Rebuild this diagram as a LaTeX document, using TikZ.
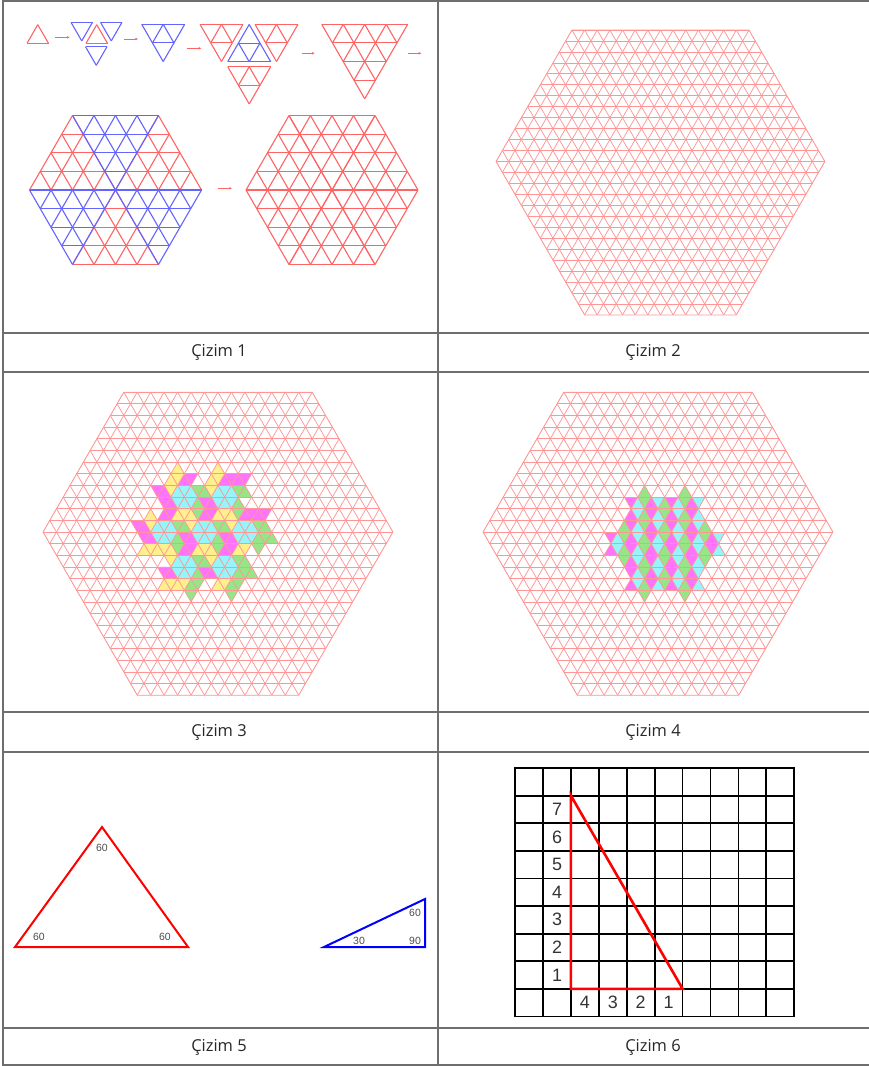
\documentclass[tikz,border=0pt]{standalone}
\usepackage{fontspec}
\setmainfont{Open Sans}
\newfontfamily\arialfont{Liberation Sans}
\usetikzlibrary{arrows.meta}
\definecolor{tabline}{RGB}{110,110,110}
\definecolor{isored}{RGB}{255,150,150}
\definecolor{trired}{RGB}{255,100,100}
\definecolor{triblue}{RGB}{100,100,255}
\definecolor{hexcyan}{RGB}{150,245,250}
\definecolor{rhy}{RGB}{255,240,140}
\definecolor{rhg}{RGB}{150,230,135}
\definecolor{rhm}{RGB}{255,115,250}
\colorlet{rk0}{rhg}\colorlet{rk1}{rhm}\colorlet{rk2}{rhy}
\colorlet{rk3}{rhm}\colorlet{rk4}{rhy}\colorlet{rk5}{rhg}
\colorlet{dia0}{rhm}\colorlet{dia1}{rhg}\colorlet{dia2}{hexcyan}
\newcommand\subtri[1]{%
  \foreach \m in {0,...,#1} {
    \draw ({\m*0.5},{\m*0.8660254}) -- ({#1-\m*0.5},{\m*0.8660254});
    \draw (\m,0) -- ({(\m+#1)*0.5},{(#1-\m)*0.8660254});
    \draw (\m,0) -- ({\m*0.5},{\m*0.8660254});
  }}
\newcommand\bighex[2]{%
  \begin{scope}[#1, shift={(-4,0)}] \subtri{4} \end{scope}
  \begin{scope}[#1] \subtri{4} \end{scope}
  \begin{scope}[#1, shift={(-2,-3.4641)}] \subtri{4} \end{scope}
  \begin{scope}[#2, shift={(-2,3.4641)}, yscale=-1] \subtri{4} \end{scope}
  \begin{scope}[#2, shift={(-4,0)}, yscale=-1] \subtri{4} \end{scope}
  \begin{scope}[#2, yscale=-1] \subtri{4} \end{scope}}
\newcommand\isogrid{%
  \begin{scope}
    \clip (0,0) -- (6,10.3923) -- (20,10.3923) -- (26,0) -- (19,-12.1244) -- (7,-12.1244) -- cycle;
    \foreach \rw in {-14,...,12}
      \draw[isoline] (-1,{0.8660254*\rw}) -- (27,{0.8660254*\rw});
    \foreach \kk in {-7,...,33} {
      \draw[isoline] ({\kk-7},-12.1244) -- ({\kk+6},10.3923);
      \draw[isoline] ({\kk+7},-12.1244) -- ({\kk-6},10.3923);
    }
  \end{scope}
  \draw[isoline] (0,0) -- (6,10.3923) -- (20,10.3923) -- (26,0) -- (19,-12.1244) -- (7,-12.1244) -- cycle;}
\newcommand\hexcell{%
  \fill[hexcyan] (0:1) -- (60:1) -- (120:1) -- (180:1) -- (240:1) -- (300:1) -- cycle;
  \foreach \kk in {0,...,5}
    \fill[fill=rk\kk, rotate=60*\kk] (60:1) -- (0:1) -- (0:2) -- (1.5,0.8660254) -- cycle;}
\newcommand\vrhomb[1]{%
  \fill[fill=rk#1, rotate=60*#1] (1,0) -- (2,0) -- (2.5,-0.8660254) -- (1.5,-0.8660254) -- cycle;}
\begin{document}
\begin{tikzpicture}[x=1bp,y=-1bp,
  every node/.style={inner sep=0pt, outer sep=0pt},
  tabrule/.style={draw=tabline, line width=1.3bp},
  caption/.style={font=\fontsize{16.5}{19}\selectfont, text=black!85},
  isoline/.style={draw=isored, line width=0.75bp},
  redtri/.style={color=trired, line width=1.1bp},
  bluetri/.style={color=triblue, line width=1.1bp},
  unit1/.style={x={(21.5bp,0bp)}, y={(0bp,21.5bp)}},
  unit2/.style={x={(12.65bp,0bp)}, y={(0bp,12.65bp)}},
  unit3/.style={x={(13.46bp,0bp)}, y={(0bp,13.46bp)}},
  arr/.style={draw=trired, line width=0.9bp, -{Latex[length=3bp,width=2.6bp]}},
  anglab/.style={font=\arialfont\fontsize{10.5}{12}\selectfont, text=black!70},
  gridblk/.style={draw=black, line width=1.8bp, line cap=rect},
  numlab/.style={font=\arialfont\fontsize{18}{21}\selectfont, text=black!80}]
\useasboundingbox (0,0) rectangle (869,1066);
\draw[tabrule] (3,1) rectangle (871,1065);
\draw[tabrule] (438,1) -- (438,1065);
\draw[tabrule] (3,333) -- (871,333);
\draw[tabrule] (3,372) -- (871,372);
\draw[tabrule] (3,712) -- (871,712);
\draw[tabrule] (3,752) -- (871,752);
\draw[tabrule] (3,1028) -- (871,1028);
\node[caption] (cap1) at (219,352) {Çizim 1};
\node[caption] (cap2) at (653,352) {Çizim 2};
\node[caption] (cap3) at (219,732) {Çizim 3};
\node[caption] (cap4) at (653,732) {Çizim 4};
\node[caption] (cap5) at (219,1047) {Çizim 5};
\node[caption] (cap6) at (653,1047) {Çizim 6};

\begin{scope}[unit1, redtri, shift={(27bp,-43.3bp)}] \subtri{1} \end{scope}
\begin{scope}[unit1, bluetri, shift={(71bp,-22.3bp)}, yscale=-1] \subtri{1} \end{scope}
\begin{scope}[unit1, redtri, shift={(86bp,-43.3bp)}] \subtri{1} \end{scope}
\begin{scope}[unit1, bluetri, shift={(100.5bp,-22.3bp)}, yscale=-1] \subtri{1} \end{scope}
\begin{scope}[unit1, bluetri, shift={(85.5bp,-46.7bp)}, yscale=-1] \subtri{1} \end{scope}
\begin{scope}[unit1, bluetri, shift={(141.7bp,-24.3bp)}, yscale=-1] \subtri{2} \end{scope}
\begin{scope}[unit1, redtri, shift={(200bp,-24.3bp)}, yscale=-1] \subtri{2} \end{scope}
\begin{scope}[unit1, redtri, shift={(255bp,-24.3bp)}, yscale=-1] \subtri{2} \end{scope}
\begin{scope}[unit1, redtri, shift={(227.7bp,-66.7bp)}, yscale=-1] \subtri{2} \end{scope}
\begin{scope}[unit1, bluetri, shift={(227.7bp,-61.7bp)}] \subtri{2} \end{scope}
\begin{scope}[unit1, redtri, shift={(321.7bp,-24.3bp)}, yscale=-1] \subtri{4} \end{scope}
\coordinate (s1) at (55,37.3);   \coordinate (e1) at (70,37.3);
\coordinate (s2) at (124,39);    \coordinate (e2) at (138.3,39);
\coordinate (s3) at (186.7,48.3);\coordinate (e3) at (201.7,48.3);
\coordinate (s4) at (301.7,53.3);\coordinate (e4) at (315,53.3);
\coordinate (s5) at (408.3,53.3);\coordinate (e5) at (421.7,53.3);
\coordinate (s6) at (218.3,188.3);\coordinate (e6) at (232.3,188.3);
\draw[arr] (s1) -- (e1);
\draw[arr] (s2) -- (e2);
\draw[arr] (s3) -- (e3);
\draw[arr] (s4) -- (e4);
\draw[arr] (s5) -- (e5);
\draw[arr] (s6) -- (e6);
\begin{scope}[unit1, shift={(115.5bp,-190bp)}] \bighex{redtri}{bluetri} \end{scope}
\begin{scope}[unit1, shift={(332bp,-190bp)}] \bighex{redtri}{redtri} \end{scope}

\begin{scope}[unit2, shift={(496bp,-161.5bp)}] \isogrid \end{scope}

\begin{scope}[unit3, shift={(43bp,-532bp)}]
  \begin{scope}[shift={(12,0)}]
    \hexcell
    \foreach \jy in {0,...,5} {
      \begin{scope}[shift={(60*\jy:3)}]
        \hexcell
        \pgfmathtruncatemacro\kb{mod(\jy+1,6)}
        \vrhomb{\jy} \vrhomb{\kb}
      \end{scope}}
  \end{scope}
  \isogrid
\end{scope}

\begin{scope}[unit3, shift={(483bp,-532bp)}]
  \begin{scope}[shift={(13.5,-0.8660254)}]
    \foreach \ix in {-9,...,9} \foreach \jy in {-6,...,6} {
      \pgfmathsetmacro\px{\ix+0.5*\jy}
      \pgfmathsetmacro\py{0.8660254*\jy}
      \pgfmathtruncatemacro\cc{mod(\ix+2*\jy+60,3)}
      \pgfmathtruncatemacro\inup{veclen(\px+0.5,\py+0.2887)<4+0.5*cos(6*atan2(\py+0.2887,\px+0.5))}
      \pgfmathtruncatemacro\indn{veclen(\px+0.5,\py-0.2887)<4+0.5*cos(6*atan2(\py-0.2887,\px+0.5))}
      \ifnum\inup=1 \fill[fill=dia\cc] (\px,\py) -- ++(1,0) -- ++(-0.5,0.8660254) -- cycle; \fi
      \ifnum\indn=1 \fill[fill=dia\cc] (\px,\py) -- ++(1,0) -- ++(-0.5,-0.8660254) -- cycle; \fi
    }
  \end{scope}
  \isogrid
\end{scope}

\draw[draw=red, line width=2bp] (15,947) -- (188,947) -- (102,827) -- cycle;
\draw[draw=blue, line width=2bp] (324,947) -- (425,947) -- (425,899) -- cycle;
\node[anglab] (ra) at (102,848) {60};
\node[anglab] (rb) at (39,937) {60};
\node[anglab] (rc) at (165,937) {60};
\node[anglab] (ba) at (415,913) {60};
\node[anglab] (bb) at (359,941) {30};
\node[anglab] (bc) at (415,941) {90};

\foreach \ix in {0,...,10} \draw[gridblk] ({515+27.93*\ix},768) -- ({515+27.93*\ix},1016.4);
\foreach \jy in {0,...,9} \draw[gridblk] (515,{768+27.6*\jy}) -- (794.3,{768+27.6*\jy});
\draw[draw=red, line width=2.6bp] (570.9,795.6) -- (570.9,988.8) -- (682.6,988.8) -- cycle;
\node[numlab] (v7) at (557,809.4) {7};
\node[numlab] (v6) at (557,837) {6};
\node[numlab] (v5) at (557,864.6) {5};
\node[numlab] (v4) at (557,892.2) {4};
\node[numlab] (v3) at (557,919.8) {3};
\node[numlab] (v2) at (557,947.4) {2};
\node[numlab] (v1) at (557,975) {1};
\node[numlab] (h4) at (584.8,1002.6) {4};
\node[numlab] (h3) at (612.8,1002.6) {3};
\node[numlab] (h2) at (640.7,1002.6) {2};
\node[numlab] (h1) at (668.6,1002.6) {1};
\end{tikzpicture}
\end{document}
